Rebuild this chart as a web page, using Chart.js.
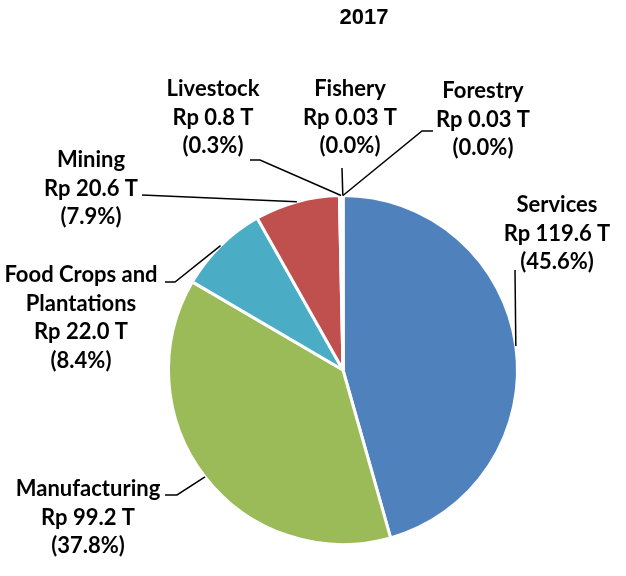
<!DOCTYPE html>
<html>
<head>
<meta charset="utf-8">
<script src="https://cdn.jsdelivr.net/npm/chart.js@4.4.1/dist/chart.umd.min.js"></script>
<style>
  html, body { margin: 0; padding: 0; background: #fff; }
  #wrap { position: relative; width: 626px; height: 576px; }
</style>
</head>
<body>
<div id="wrap"><canvas id="pieChart"></canvas></div>
<script>
// ------ DATA ------
const chartTitle = '2017';
const categories = [
  ['Services'],
  ['Manufacturing'],
  ['Food Crops and', 'Plantations'],
  ['Mining'],
  ['Livestock'],
  ['Fishery'],
  ['Forestry']
];
const values = [119.6, 99.2, 22.0, 20.6, 0.8, 0.03, 0.03];

const COLORS = ['#4f81bd', '#9bbb59', '#4bacc6', '#c0504d', '#8064a2', '#f79646', '#2c4d75'];

// label layout: centre x, first baseline y, leader elbow points (label side last)
const LABEL_LAYOUT = [
  { x: 557, y: 212, leader: [[515, 270]] },
  { x: 88,  y: 496, leader: [[177, 495], [165, 495]] },
  { x: 81,  y: 282, leader: [[175, 282], [165, 282]] },
  { x: 91,  y: 167, leader: [[142, 195]] },
  { x: 213, y: 96,  leader: [[260, 160], [250, 160]] },
  { x: 350, y: 96,  leader: [[342, 168]] },
  { x: 483, y: 98,  leader: [[422, 131], [433, 131]] }
];
const LINE_H = 28.6;
const LABEL_FONT = 'bold 22px Lato, "Liberation Sans", sans-serif';

const total = values.reduce((a, b) => a + b, 0);
const fmtVal = v => 'Rp ' + (v < 0.1 ? v.toFixed(2) : v.toFixed(1)) + ' T';
const fmtPct = v => '(' + (v / total * 100).toFixed(1) + '%)';

// ------ LEADER LINES + LABELS ------
const pieLabels = {
  id: 'pieLabels',
  afterDatasetsDraw(chart) {
    const c = chart.ctx;
    const arcs = chart.getDatasetMeta(0).data;
    c.save();

    // title
    c.fillStyle = '#000';
    c.font = 'bold 22px "Liberation Sans", Arial, sans-serif';
    c.textAlign = 'center';
    c.textBaseline = 'alphabetic';
    c.fillText(chartTitle, 364, 24);

    arcs.forEach((arc, i) => {
      const lay = LABEL_LAYOUT[i];
      const p = arc.getProps(['x', 'y', 'startAngle', 'endAngle', 'outerRadius'], true);
      const mid = (p.startAngle + p.endAngle) / 2;
      const r = p.outerRadius;
      c.strokeStyle = '#000';
      c.lineWidth = 1.5;
      c.beginPath();
      c.moveTo(p.x + Math.cos(mid) * r, p.y + Math.sin(mid) * r);
      lay.leader.forEach(pt => c.lineTo(pt[0], pt[1]));
      c.stroke();

      const lines = categories[i].concat([fmtVal(values[i]), fmtPct(values[i])]);
      c.font = LABEL_FONT;
      c.fillStyle = '#000';
      c.textAlign = 'center';
      lines.forEach((t, k) => c.fillText(t, lay.x, lay.y + k * LINE_H));
    });
    c.restore();
  }
};

new Chart(document.getElementById('pieChart'), {
  type: 'pie',
  data: {
    labels: categories.map(l => l.join(' ')),
    datasets: [{
      data: values,
      backgroundColor: COLORS,
      borderColor: '#ffffff',
      borderWidth: 3
    }]
  },
  options: {
    responsive: true,
    maintainAspectRatio: false,
    animation: false,
    layout: { padding: { left: 167, right: 107, top: 194, bottom: 30 } },
    plugins: {
      legend: { display: false },
      title: { display: false },
      tooltip: { enabled: false }
    }
  },
  plugins: [pieLabels]
});
</script>
</body>
</html>
